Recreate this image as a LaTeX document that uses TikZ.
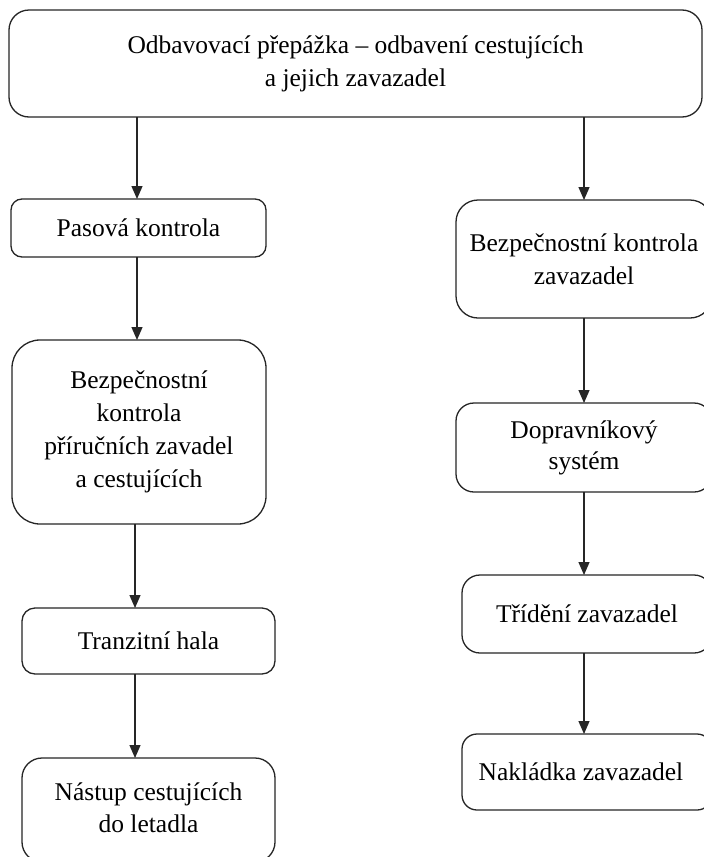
\documentclass[tikz,border=0pt]{standalone}
\usepackage{fontspec}
\setmainfont{Liberation Serif}
\usetikzlibrary{arrows.meta}
\tikzset{
  box/.style={draw=black!85, line width=1.3pt, fill=white, align=center, inner sep=0pt, outer sep=0pt,
    font=\fontsize{25.5}{33}\selectfont, text=black},
  arr/.style={draw=black!85, line width=1.3pt, -{Triangle[length=13pt,width=11pt]}}
}
\begin{document}
\begin{tikzpicture}[x=1pt,y=-1pt]
\useasboundingbox (0,0) rectangle (704,857);
\clip (0,0) rectangle (704,857);
\fill[white] (0,0) rectangle (704,857);
% columns
\coordinate (lc1) at (137,0);
\coordinate (lc2) at (135,0);
\coordinate (rc) at (584,0);
% boxes
\node[box, minimum width=693pt, minimum height=107pt, rounded corners=20pt] (top) at (355.5,63.5)
  {Odbavovací přepážka – odbavení cestujících\\a jejich zavazadel};
\node[box, minimum width=255pt, minimum height=58pt, rounded corners=11pt] (pas) at (138.5,228) {Pasová kontrola};
\node[box, minimum width=254pt, minimum height=184pt, rounded corners=28pt] (bez1) at (139,432)
  {Bezpečnostní\\kontrola\\příručních zavadel\\a cestujících};
\node[box, minimum width=253pt, minimum height=66pt, rounded corners=13pt] (tran) at (148.5,641) {Tranzitní hala};
\node[box, minimum width=253pt, minimum height=104pt, rounded corners=20pt] (nast) at (148.5,810)
  {\raisebox{-4pt}{\begin{tabular}{@{}c@{}}Nástup cestujících\\[-1pt]do letadla\end{tabular}}};
\node[box, minimum width=256pt, minimum height=118pt, rounded corners=22pt] (bez2) at (584,259)
  {Bezpečnostní kontrola\\zavazadel};
\node[box, minimum width=256pt, minimum height=89pt, rounded corners=18pt] (dop) at (584,447.5)
  {\raisebox{-4pt}{\begin{tabular}{@{}c@{}}Dopravníkový\\[-2pt]systém\end{tabular}}};
\node[box, minimum width=250pt, minimum height=78pt, rounded corners=18pt] (tri) at (587,614) {Třídění zavazadel};
\node[box, minimum width=250pt, minimum height=76pt, rounded corners=15pt] (nak) at (587,772) {\hspace*{-12pt}Nakládka zavazadel};
% arrows
\draw[arr] (top.south -| lc1) -- (pas.north -| lc1);
\draw[arr] (pas.south -| lc1) -- (bez1.north -| lc1);
\draw[arr] (bez1.south -| lc2) -- (tran.north -| lc2);
\draw[arr] (tran.south -| lc2) -- (nast.north -| lc2);
\draw[arr] (top.south -| rc) -- (bez2.north -| rc);
\draw[arr] (bez2.south -| rc) -- (dop.north -| rc);
\draw[arr] (dop.south -| rc) -- (tri.north -| rc);
\draw[arr] (tri.south -| rc) -- (nak.north -| rc);
\end{tikzpicture}
\end{document}
